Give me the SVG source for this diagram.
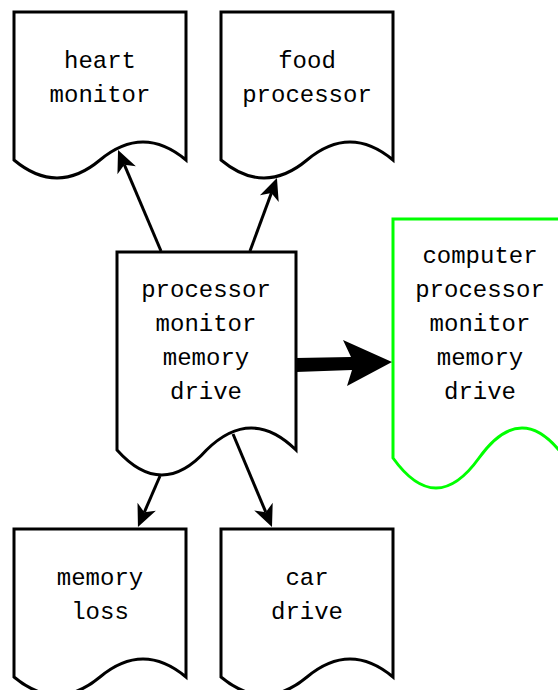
<svg xmlns="http://www.w3.org/2000/svg" width="558" height="690" viewBox="0 0 558 690">
<defs>
<style>
.doc{fill:#ffffff;stroke:#000000;stroke-width:3;stroke-linejoin:miter}
.green{stroke:#00ff00}
.lbl{font-family:"Liberation Mono","Courier New",monospace;font-size:24px;fill:#000000;text-anchor:middle}
.edge{fill:none;stroke:#000000;stroke-width:3}
</style>
<marker id="arr" markerUnits="userSpaceOnUse" markerWidth="24" markerHeight="22" refX="6" refY="10" orient="auto" overflow="visible">
<path d="M0,0 L22,10 L0,20 L6,10 Z" fill="#000000"/>
</marker>
</defs>
<rect width="558" height="690" fill="#ffffff"/>
<g id="heart-monitor">
<path class="doc" d="M14,12 H186 V160 Q143,124 100,160 Q57,196 14,160 Z"/>
<text class="lbl" x="100" y="68">heart</text>
<text class="lbl" x="100" y="102">monitor</text>
</g>
<g id="food-processor">
<path class="doc" d="M221,12 H393 V160 Q350,124 307,160 Q264,196 221,160 Z"/>
<text class="lbl" x="307" y="68">food</text>
<text class="lbl" x="307" y="102">processor</text>
</g>
<g id="center">
<path class="doc" d="M117,252 H296 V450 Q251.25,406 206.5,450 Q161.75,500 117,450 Z"/>
<text class="lbl" x="206" y="297">processor</text>
<text class="lbl" x="206" y="331">monitor</text>
<text class="lbl" x="206" y="365">memory</text>
<text class="lbl" x="206" y="399">drive</text>
</g>
<g id="computer">
<path class="doc green" d="M393,219 H565 V458 Q522,398 479,458 Q436,518 393,458 Z"/>
<text class="lbl" x="480" y="263">computer</text>
<text class="lbl" x="480" y="297">processor</text>
<text class="lbl" x="480" y="331">monitor</text>
<text class="lbl" x="480" y="365">memory</text>
<text class="lbl" x="480" y="399">drive</text>
</g>
<g id="memory-loss">
<path class="doc" d="M14,529 H186 V677 Q143,641 100,677 Q57,713 14,677 Z"/>
<text class="lbl" x="100" y="585">memory</text>
<text class="lbl" x="100" y="619">loss</text>
</g>
<g id="car-drive">
<path class="doc" d="M221,529 H393 V677 Q350,641 307,677 Q264,713 221,677 Z"/>
<text class="lbl" x="307" y="585">car</text>
<text class="lbl" x="307" y="619">drive</text>
</g>
<g id="connectors">
<path class="edge" d="M161,251 L124.3,164.7" marker-end="url(#arr)"/>
<path class="edge" d="M250,251 L271.4,193" marker-end="url(#arr)"/>
<path class="edge" d="M160,476 L144.3,512.3" marker-end="url(#arr)"/>
<path class="edge" d="M233,434 L265.8,512.2" marker-end="url(#arr)"/>
<polygon points="296,358 351,357 343,340 392,362 347,386 352,370 296,372" fill="#000000"/>
</g>
</svg>
